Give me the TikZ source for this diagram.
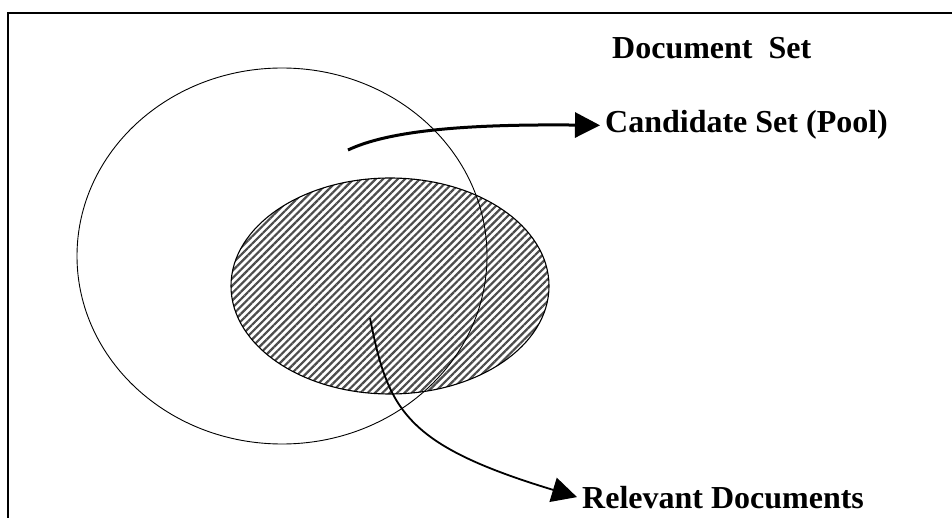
\documentclass[tikz,border=0pt]{standalone}
\usepackage{fontspec}
\setmainfont{Liberation Serif}
\usetikzlibrary{shapes.geometric, arrows.meta, positioning, patterns.meta}
\tikzset{
    setlabel/.style={font=\fontsize{32}{36}\selectfont\bfseries, inner sep=5pt, anchor=base west},
    hatchfill/.style={pattern={Lines[angle=45, distance=5.2pt, line width=2.2pt]}, pattern color=black!70},
    bigtip/.style={-{Triangle[length=25pt, width=25pt]}}
}

\begin{document}
\begin{tikzpicture}[x=1pt, y=-1pt]

\useasboundingbox (0,0) rectangle (952,518);

% Frame (only top and left edges visible)
\draw[line width=2pt] (952,13) -- (8,13) -- (8,518);

% Hatched ellipse - relevant documents
\node[ellipse, draw, line width=1.1pt, hatchfill, minimum width=318pt, minimum height=216pt] (relset) at (390,286) {};

% Outer ellipse - candidate pool
\node[ellipse, draw, line width=0.9pt, minimum width=410pt, minimum height=376pt] (pool) at (282,256) {};

% Labels
\node[setlabel] (docset) at (607,59) {Document\ \ Set};
\node[setlabel] (cand) at (600,133) {Candidate Set (Pool)};
\node[setlabel] (relev) at (577,508) {Relevant Documents};

% Arrow starts
\coordinate (poolpt) at (348,150);
\coordinate (relpt) at (370,318);

% Arrows
\draw[line width=3pt, bigtip] (poolpt) .. controls (390,130) and (470,124) .. (cand.west);
\draw[line width=1.8pt, bigtip] (relpt) .. controls (388,410) and (405,445) .. (relev.west);

\end{tikzpicture}
\end{document}
